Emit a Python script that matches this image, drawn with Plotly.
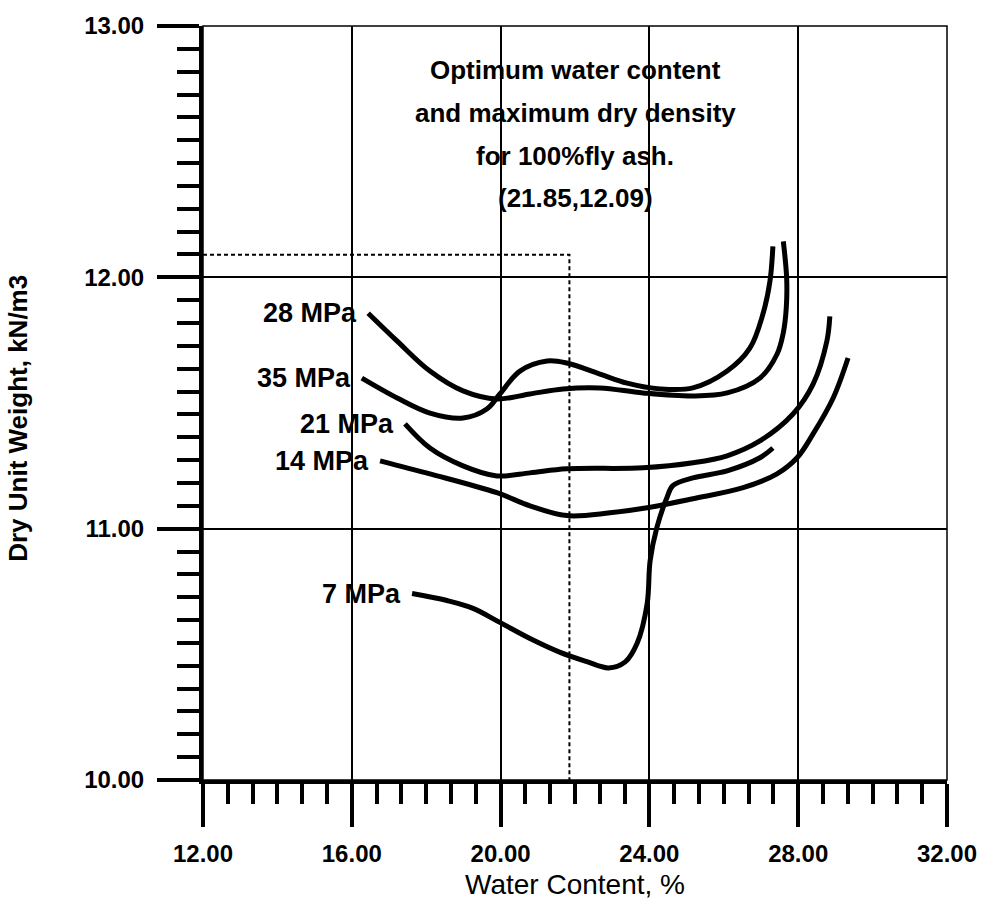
import plotly.graph_objects as go

# ---- data ----
x_28 = [16.44, 17.22, 18.10, 18.99, 19.90, 20.79, 21.68, 22.67, 23.83, 25.17, 26.09, 26.97, 27.43, 27.60, 27.68, 27.69, 27.60]
y_28 = [11.857, 11.746, 11.627, 11.548, 11.516, 11.536, 11.556, 11.560, 11.540, 11.528, 11.540, 11.599, 11.694, 11.780, 11.880, 11.996, 12.143]

x_35 = [16.27, 17.22, 18.10, 18.99, 19.63, 19.98, 20.52, 21.25, 21.78, 22.67, 23.40, 24.29, 25.17, 26.09, 26.70, 27.05, 27.24, 27.32]
y_35 = [11.599, 11.520, 11.460, 11.440, 11.476, 11.536, 11.627, 11.667, 11.659, 11.615, 11.579, 11.556, 11.560, 11.627, 11.718, 11.853, 11.984, 12.123]

x_21 = [17.43, 18.10, 18.99, 19.90, 20.79, 21.78, 23.83, 25.17, 26.09, 26.97, 27.86, 28.40, 28.77, 28.85]
y_21 = [11.417, 11.321, 11.250, 11.210, 11.222, 11.238, 11.242, 11.262, 11.290, 11.349, 11.456, 11.575, 11.746, 11.845]

x_14 = [16.76, 18.10, 19.90, 20.79, 21.78, 22.94, 23.94, 25.17, 26.52, 27.43, 27.97, 28.40, 28.94, 29.34]
y_14 = [11.270, 11.218, 11.143, 11.091, 11.052, 11.063, 11.083, 11.119, 11.163, 11.218, 11.282, 11.377, 11.520, 11.679]

x_7 = [17.62, 18.56, 19.26, 19.98, 20.79, 21.60, 22.30, 22.90, 23.35, 23.67, 23.94, 24.02, 24.20, 24.47, 24.63, 25.17, 26.09, 26.97, 27.32]
y_7 = [10.742, 10.714, 10.683, 10.627, 10.563, 10.508, 10.472, 10.446, 10.470, 10.544, 10.702, 10.873, 11.004, 11.123, 11.171, 11.202, 11.230, 11.282, 11.321]

series_names = ["28 MPa", "35 MPa", "21 MPa", "14 MPa", "7 MPa"]
series_x = [x_28, x_35, x_21, x_14, x_7]
series_y = [y_28, y_35, y_21, y_14, y_7]

opt_x = 21.85
opt_y = 12.09
note_lines = ["Optimum water content", "and maximum dry density",
              "for 100%fly ash.", "(21.85,12.09)"]

x_ticks = [12, 16, 20, 24, 28, 32]
y_ticks = [10, 11, 12, 13]

FONT = "Liberation Sans, Arial, sans-serif"

fig = go.Figure()

# optimum dashed guide
fig.add_trace(go.Scatter(x=[x_ticks[0], opt_x, opt_x], y=[opt_y, opt_y, y_ticks[0]],
                         mode="lines", line=dict(color="black", width=2, dash="4px,3px"),
                         showlegend=False, hoverinfo="skip"))

for name, xs, ys in zip(series_names, series_x, series_y):
    fig.add_trace(go.Scatter(x=xs, y=ys, mode="lines", name=name,
                             line=dict(color="black", width=5, shape="spline", smoothing=1.0),
                             showlegend=False))
    fig.add_annotation(x=xs[0], y=ys[0], text=name, showarrow=False,
                       xanchor="right", yanchor="middle", xshift=-9,
                       font=dict(family=FONT, size=27, color="black", weight="bold"))

note_y = [0.942, 0.884, 0.828, 0.772]
for t, py in zip(note_lines, note_y):
    fig.add_annotation(x=22.0, xref="x", y=py, yref="paper", text=t, showarrow=False,
                       xanchor="center", yanchor="middle",
                       font=dict(family=FONT, size=26, color="black", weight="bold"))

# axis titles
fig.add_annotation(x=22.0, xref="x", y=-0.138, yref="paper", text="Water Content, %",
                   showarrow=False, xanchor="center", yanchor="middle",
                   font=dict(family=FONT, size=28, color="black"))
fig.add_annotation(x=-0.249, xref="paper", y=11.44, yref="y", text="Dry Unit Weight, kN/m3",
                   showarrow=False, xanchor="center", yanchor="middle", textangle=-90,
                   font=dict(family=FONT, size=26, color="black", weight="bold"))

# plot border (top/right thin)
fig.add_shape(type="rect", xref="paper", yref="paper", x0=0, y0=0, x1=1, y1=1,
              line=dict(color="black", width=1.5), layer="below")

fig.update_xaxes(range=[12, 32], tickvals=x_ticks, ticktext=[f"{v:.2f}" for v in x_ticks],
                 showgrid=True, gridcolor="black", gridwidth=1.5,
                 showline=True, linecolor="black", linewidth=4,
                 ticks="outside", ticklen=43, tickwidth=4, tickcolor="black",
                 ticklabelstandoff=6,
                 tickfont=dict(family=FONT, size=24, color="black", weight="bold"),
                 minor=dict(ticks="outside", ticklen=20, tickwidth=4, tickcolor="black",
                            tick0=12, dtick=2/3, showgrid=False),
                 zeroline=False)
fig.update_yaxes(range=[10, 13], tickvals=y_ticks, ticktext=[f"{v:.2f}" for v in y_ticks],
                 showgrid=True, gridcolor="black", gridwidth=1.5,
                 showline=True, linecolor="black", linewidth=4,
                 ticks="outside", ticklen=42, tickwidth=4, tickcolor="black",
                 ticklabelstandoff=8,
                 tickfont=dict(family=FONT, size=24, color="black", weight="bold"),
                 minor=dict(ticks="outside", ticklen=22, tickwidth=4, tickcolor="black",
                            tick0=10, dtick=1/11, showgrid=False),
                 zeroline=False)

fig.update_layout(width=989, height=900, paper_bgcolor="white", plot_bgcolor="white",
                  margin=dict(l=203, r=39, t=24, b=120), showlegend=False)

fig.write_html("out.html")
